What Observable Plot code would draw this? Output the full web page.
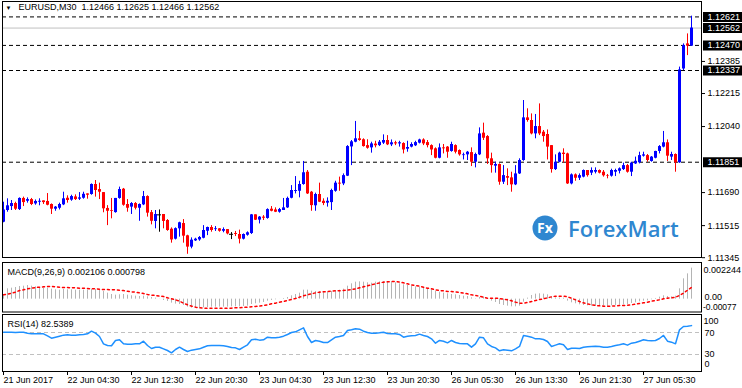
<!DOCTYPE html>
<html><head><meta charset="utf-8">
<script src="https://cdn.jsdelivr.net/npm/d3@7"></script>
<script src="https://cdn.jsdelivr.net/npm/@observablehq/plot@0.6"></script>
<style>
body{margin:0;background:#fff;}
#chart{position:relative;width:742px;height:388px;overflow:hidden;background:#fff;}
#chart svg{position:absolute;left:0;overflow:visible;}
</style></head><body><div id="chart"></div>
<script>
const titleText = "EURUSD,M30  1.12466 1.12625 1.12466 1.12562";
const macdTitle = "MACD(9,26,9) 0.002106 0.000798";
const rsiTitle = "RSI(14) 82.5389";

const open = [1.11533,1.11595,1.11616,1.11632,1.11600,1.11659,1.11644,1.11653,1.11630,1.11639,
1.11646,1.11643,1.11627,1.11602,1.11607,1.11625,1.11660,1.11650,1.11667,1.11655,
1.11660,1.11683,1.11680,1.11733,1.11706,1.11690,1.11606,1.11595,1.11584,1.11659,
1.11708,1.11627,1.11613,1.11632,1.11607,1.11625,1.11669,1.11584,1.11537,1.11572,
1.11574,1.11542,1.11496,1.11443,1.11498,1.11526,1.11461,1.11401,1.11434,1.11439,
1.11448,1.11485,1.11505,1.11494,1.11498,1.11485,1.11494,1.11469,1.11473,1.11468,
1.11443,1.11464,1.11473,1.11572,1.11544,1.11560,1.11553,1.11602,1.11598,1.11586,
1.11595,1.11609,1.11660,1.11696,1.11697,1.11733,1.11798,1.11692,1.11620,1.11680,
1.11644,1.11634,1.11637,1.11697,1.11740,1.11736,1.11777,1.11932,1.11957,1.11975,
1.11970,1.11939,1.11927,1.11947,1.11939,1.11952,1.11966,1.11943,1.11954,1.11948,
1.11950,1.11920,1.11931,1.11938,1.11952,1.11969,1.11955,1.11939,1.11922,1.11872,
1.11927,1.11931,1.11908,1.11939,1.11913,1.11886,1.11890,1.11902,1.11851,1.11890,
1.12005,1.11987,1.11869,1.11830,1.11839,1.11745,1.11775,1.11768,1.11731,1.11789,
1.11860,1.12086,1.12072,1.12001,1.12040,1.12010,1.11998,1.11939,1.11812,1.11851,
1.11899,1.11895,1.11736,1.11784,1.11766,1.11772,1.11807,1.11793,1.11798,1.11807,
1.11798,1.11780,1.11777,1.11798,1.11803,1.11812,1.11833,1.11798,1.11842,1.11848,
1.11883,1.11886,1.11855,1.11872,1.11908,1.11931,1.11954,1.11878,1.11892,1.11848,
1.12345,1.12478,1.12466];
const high = [1.11639,1.11657,1.11648,1.11639,1.11662,1.11666,1.11662,1.11659,1.11651,1.11657,
1.11646,1.11685,1.11630,1.11616,1.11634,1.11692,1.11673,1.11676,1.11678,1.11690,
1.11692,1.11683,1.11736,1.11754,1.11740,1.11690,1.11621,1.11659,1.11659,1.11719,
1.11712,1.11653,1.11637,1.11637,1.11630,1.11696,1.11673,1.11595,1.11595,1.11598,
1.11574,1.11547,1.11503,1.11503,1.11533,1.11547,1.11464,1.11450,1.11448,1.11457,
1.11515,1.11507,1.11515,1.11510,1.11499,1.11503,1.11494,1.11478,1.11484,1.11491,
1.11471,1.11482,1.11574,1.11572,1.11563,1.11568,1.11604,1.11616,1.11609,1.11606,
1.11659,1.11666,1.11727,1.11775,1.11750,1.11855,1.11807,1.11696,1.11687,1.11740,
1.11657,1.11662,1.11708,1.11750,1.11772,1.11789,1.11939,1.11966,1.12067,1.12014,
1.11975,1.11970,1.11957,1.11962,1.11966,1.11996,1.11992,1.11969,1.11962,1.11962,
1.11954,1.11962,1.11954,1.11962,1.11973,1.11975,1.11966,1.11943,1.11927,1.11948,
1.11945,1.11934,1.11957,1.11943,1.11916,1.11899,1.11908,1.11927,1.11899,1.12033,
1.12058,1.11992,1.11899,1.11851,1.11842,1.11833,1.11816,1.11798,1.11833,1.11869,
1.12178,1.12134,1.12107,1.12104,1.12160,1.12019,1.12022,1.11939,1.11890,1.11904,
1.11922,1.11899,1.11789,1.11789,1.11789,1.11810,1.11807,1.11821,1.11821,1.11810,
1.11807,1.11786,1.11814,1.11814,1.11821,1.11846,1.11839,1.11851,1.11878,1.11904,
1.11904,1.11892,1.11881,1.11909,1.11939,1.12014,1.11969,1.11904,1.11895,1.12355,
1.12478,1.12531,1.12625];
const low = [1.11530,1.11586,1.11595,1.11595,1.11595,1.11616,1.11634,1.11621,1.11623,1.11620,
1.11627,1.11620,1.11574,1.11591,1.11598,1.11621,1.11634,1.11644,1.11648,1.11648,
1.11655,1.11655,1.11676,1.11666,1.11653,1.11583,1.11515,1.11551,1.11581,1.11655,
1.11618,1.11586,1.11574,1.11598,1.11538,1.11621,1.11560,1.11519,1.11498,1.11480,
1.11498,1.11485,1.11422,1.11439,1.11454,1.11422,1.11363,1.11392,1.11431,1.11432,
1.11445,1.11462,1.11480,1.11484,1.11480,1.11477,1.11466,1.11441,1.11457,1.11418,
1.11439,1.11459,1.11468,1.11542,1.11524,1.11542,1.11549,1.11588,1.11584,1.11581,
1.11595,1.11606,1.11657,1.11683,1.11662,1.11729,1.11680,1.11591,1.11591,1.11637,
1.11621,1.11613,1.11595,1.11692,1.11697,1.11727,1.11775,1.11833,1.11954,1.11962,
1.11931,1.11920,1.11899,1.11927,1.11934,1.11945,1.11939,1.11934,1.11939,1.11931,
1.11895,1.11904,1.11927,1.11934,1.11948,1.11939,1.11927,1.11886,1.11869,1.11869,
1.11895,1.11872,1.11904,1.11895,1.11883,1.11863,1.11860,1.11828,1.11821,1.11886,
1.11966,1.11839,1.11793,1.11793,1.11729,1.11733,1.11727,1.11692,1.11727,1.11786,
1.11856,1.12063,1.11996,1.11975,1.11992,1.11957,1.11863,1.11793,1.11807,1.11848,
1.11846,1.11733,1.11731,1.11750,1.11754,1.11768,1.11772,1.11780,1.11789,1.11789,
1.11772,1.11763,1.11772,1.11775,1.11789,1.11807,1.11793,1.11775,1.11839,1.11842,
1.11878,1.11851,1.11851,1.11869,1.11895,1.11927,1.11855,1.11860,1.11798,1.11845,
1.12337,1.12416,1.12466];
const close = [1.11598,1.11620,1.11632,1.11602,1.11659,1.11637,1.11653,1.11627,1.11643,1.11644,
1.11637,1.11623,1.11602,1.11613,1.11627,1.11657,1.11648,1.11669,1.11653,1.11662,
1.11681,1.11676,1.11733,1.11701,1.11692,1.11604,1.11591,1.11591,1.11659,1.11706,
1.11623,1.11607,1.11632,1.11607,1.11627,1.11669,1.11581,1.11538,1.11574,1.11572,
1.11537,1.11489,1.11439,1.11499,1.11530,1.11459,1.11401,1.11438,1.11443,1.11452,
1.11489,1.11505,1.11489,1.11498,1.11485,1.11494,1.11471,1.11469,1.11468,1.11443,
1.11468,1.11477,1.11572,1.11544,1.11560,1.11554,1.11600,1.11591,1.11586,1.11600,
1.11609,1.11659,1.11701,1.11701,1.11733,1.11795,1.11683,1.11621,1.11680,1.11639,
1.11632,1.11644,1.11701,1.11740,1.11735,1.11780,1.11934,1.11959,1.11975,1.11966,
1.11934,1.11925,1.11948,1.11938,1.11957,1.11966,1.11943,1.11954,1.11948,1.11954,
1.11916,1.11929,1.11945,1.11955,1.11969,1.11948,1.11939,1.11916,1.11872,1.11927,
1.11922,1.11904,1.11945,1.11904,1.11890,1.11890,1.11904,1.11851,1.11892,1.12001,
1.11978,1.11869,1.11833,1.11839,1.11745,1.11780,1.11766,1.11731,1.11789,1.11860,
1.12086,1.12072,1.12001,1.12040,1.12001,1.11987,1.11931,1.11812,1.11851,1.11899,
1.11892,1.11736,1.11784,1.11766,1.11780,1.11807,1.11780,1.11807,1.11807,1.11793,
1.11779,1.11777,1.11807,1.11807,1.11816,1.11833,1.11798,1.11846,1.11856,1.11886,
1.11890,1.11860,1.11878,1.11908,1.11934,1.11954,1.11883,1.11892,1.11848,1.12340,
1.12469,1.12466,1.12562];

const macdMain = [0.000294,0.000701,0.000746,0.000791,0.000859,0.000881,0.000927,0.000881,0.000836,0.000791,
0.000746,0.000746,0.000678,0.000633,0.000610,0.000655,0.000633,0.000633,0.000610,0.000610,
0.000610,0.000610,0.000655,0.000655,0.000610,0.000520,0.000407,0.000316,0.000271,0.000294,
0.000316,0.000271,0.000226,0.000203,0.000181,0.000203,0.000158,0.000113,0.000068,-0.000010,
-0.000090,-0.000158,-0.000271,-0.000339,-0.000362,-0.000429,-0.000542,-0.000610,-0.000610,-0.000610,
-0.000588,-0.000565,-0.000542,-0.000542,-0.000542,-0.000542,-0.000542,-0.000520,-0.000520,-0.000520,
-0.000497,-0.000475,-0.000362,-0.000316,-0.000271,-0.000226,-0.000136,-0.000090,-0.000045,-0.000005,
0.000045,0.000113,0.000226,0.000316,0.000407,0.000610,0.000610,0.000542,0.000520,0.000520,
0.000497,0.000475,0.000520,0.000565,0.000610,0.000678,0.000881,0.001040,0.001153,0.001175,
0.001153,0.001107,0.001085,0.001153,0.001175,0.001198,0.001198,0.001153,0.001107,0.001040,
0.000972,0.000927,0.000881,0.000836,0.000814,0.000768,0.000701,0.000633,0.000542,0.000475,
0.000407,0.000362,0.000316,0.000294,0.000249,0.000203,0.000181,0.000090,0.000023,0.000113,
0.000136,-0.000023,-0.000136,-0.000226,-0.000362,-0.000429,-0.000475,-0.000520,-0.000520,-0.000475,
-0.000203,0.000068,0.000249,0.000339,0.000362,0.000339,0.000294,0.000158,0.000090,0.000068,
0.000068,-0.000136,-0.000249,-0.000316,-0.000384,-0.000429,-0.000452,-0.000475,-0.000475,-0.000475,
-0.000475,-0.000497,-0.000452,-0.000429,-0.000407,-0.000384,-0.000362,-0.000294,-0.000249,-0.000181,
-0.000136,-0.000113,-0.000045,0.000045,0.000136,0.000226,0.000181,0.000158,0.000203,0.000701,
0.001379,0.001718,0.002106];
const macdSignal = [0.000294,0.000339,0.000407,0.000475,0.000588,0.000633,0.000701,0.000746,0.000791,0.000814,
0.000836,0.000859,0.000859,0.000836,0.000814,0.000791,0.000791,0.000768,0.000768,0.000746,
0.000746,0.000723,0.000701,0.000701,0.000678,0.000655,0.000655,0.000633,0.000633,0.000610,
0.000588,0.000542,0.000497,0.000475,0.000429,0.000384,0.000316,0.000271,0.000249,0.000203,
0.000181,0.000090,0.000023,-0.000045,-0.000136,-0.000271,-0.000384,-0.000475,-0.000542,-0.000588,
-0.000610,-0.000610,-0.000610,-0.000610,-0.000610,-0.000610,-0.000610,-0.000610,-0.000588,-0.000588,
-0.000565,-0.000542,-0.000520,-0.000497,-0.000475,-0.000429,-0.000384,-0.000316,-0.000271,-0.000203,
-0.000158,-0.000090,-0.000023,0.000045,0.000136,0.000226,0.000294,0.000362,0.000429,0.000475,
0.000497,0.000520,0.000542,0.000565,0.000565,0.000588,0.000610,0.000655,0.000701,0.000768,
0.000836,0.000904,0.000972,0.001040,0.001107,0.001153,0.001175,0.001198,0.001198,0.001153,
0.001107,0.001040,0.000972,0.000927,0.000881,0.000814,0.000746,0.000701,0.000633,0.000588,
0.000565,0.000520,0.000520,0.000497,0.000452,0.000407,0.000362,0.000294,0.000249,0.000203,
0.000136,0.000068,0.000068,0.000068,0.000045,0.000000,-0.000045,-0.000113,-0.000203,-0.000271,
-0.000271,-0.000226,-0.000158,-0.000090,-0.000023,0.000023,0.000090,0.000158,0.000203,0.000203,
0.000203,0.000158,0.000068,-0.000045,-0.000158,-0.000249,-0.000316,-0.000384,-0.000429,-0.000452,
-0.000475,-0.000475,-0.000475,-0.000452,-0.000429,-0.000429,-0.000407,-0.000384,-0.000339,-0.000294,
-0.000249,-0.000203,-0.000136,-0.000090,-0.000045,0.000023,0.000068,0.000090,0.000136,0.000249,
0.000407,0.000610,0.000798];
const rsi = [70.6,70.6,70.6,70.0,70.6,70.6,68.8,67.6,67.6,67.6,67.6,
63.9,59.7,61.5,63.3,65.2,65.8,65.2,65.2,65.8,66.4,67.6,
72.4,68.8,62.7,49.4,46.4,45.8,55.5,56.7,49.4,48.8,48.8,
49.4,49.4,54.2,46.4,40.9,43.3,43.3,40.3,37.3,33.0,39.1,
43.3,39.1,35.5,37.9,39.1,40.3,43.3,45.8,46.4,46.4,46.4,
45.8,44.6,42.7,42.1,39.1,43.3,47.6,56.7,57.9,56.1,56.7,
61.5,60.3,60.3,61.5,63.3,66.4,70.0,71.2,74.9,78.5,62.7,
51.8,55.5,54.2,51.8,51.8,56.7,61.5,62.7,64.6,73.6,74.9,
76.7,76.1,72.4,70.0,
68.8,68.8,69.4,70.6,68.2,67.6,67.6,66.4,61.5,63.3,63.9,
64.6,67.0,64.6,62.7,58.5,50.6,55.5,54.2,51.2,55.5,51.8,
50.0,49.4,49.4,43.3,49.4,61.5,60.3,49.4,44.6,42.1,36.7,
38.5,37.9,36.7,40.3,44.6,64.6,63.3,61.5,58.5,58.5,57.3,
53.6,44.6,47.0,49.4,47.6,39.1,41.5,41.5,40.9,43.3,43.9,
44.6,45.2,44.6,43.3,43.3,44.6,46.4,47.6,49.4,47.0,50.6,
51.8,54.2,56.7,55.5,54.9,55.5,59.1,64.6,54.2,52.4,49.4,
74.9,80.9,81.5,82.5];

const timeTickIndex = [1,17,33,49,65,81,97,113,129,145,161];
const timeTickLabels = ["21 Jun 2017","22 Jun 04:30","22 Jun 12:30","22 Jun 20:30","23 Jun 04:30","23 Jun 12:30","23 Jun 20:30","26 Jun 05:30","26 Jun 13:30","26 Jun 21:30","27 Jun 05:30"];
const priceTicks = [1.12385,1.12215,1.12040,1.11690,1.11515,1.11345];
const priceLevels = [1.12621,1.12470,1.12337,1.11851];
const bidPrice = 1.12562;
const macdScaleValues = [0.002244, 0, -0.00077];
const macdScaleLabels = ["0.002244", "0.00", "-0.00077"];
const rsiLevels = [70, 30];
const rsiScaleValues = [100, 70, 30, 0];

const FONT = '"Liberation Sans", Arial, sans-serif';
const style = {fontFamily: FONT, fontSize: "9px", color: "#000", background: "transparent", overflow: "visible"};
const fmt5 = d3.format(".5f");
const xDomain = [0.75, 175.5];

const candles = open.map((o, k) => ({i: k + 1, o, h: high[k], l: low[k], c: close[k]}));
const candleColor = d => d.c > d.o ? "#0000ff" : d.c < d.o ? "#ff0000" : "#000000";
const macdRows = macdMain.map((m, k) => ({i: k + 1, m, s: macdSignal[k]}));
const rsiRows = rsi.map((r, k) => ({i: k + 1, r}));
const boxLevels = [...priceLevels, bidPrice];

const main = Plot.plot({
  width: 742, height: 258, marginLeft: 2, marginRight: 41, marginTop: 1, marginBottom: 1,
  style,
  x: {domain: xDomain, axis: null},
  y: {domain: [1.11346, 1.12708], range: [257, 0], label: null},
  color: {type: "identity"},
  marks: [
    Plot.ruleY([bidPrice], {stroke: "#c0c0c0"}),
    Plot.ruleY(priceLevels, {stroke: "#000", strokeDasharray: "4,3"}),
    Plot.ruleX(candles, {x: "i", y1: "l", y2: "h", stroke: candleColor}),
    Plot.ruleX(candles.filter(d => d.o !== d.c), {x: "i", y1: "o", y2: "c", stroke: candleColor, strokeWidth: 3}),
    Plot.ruleY(candles.filter(d => d.o === d.c), {y: "o", x1: d => d.i - 0.5, x2: d => d.i + 0.5, stroke: "#000"}),
    Plot.frame({stroke: "#000"}),
    Plot.axisY(priceTicks, {anchor: "right", tickSize: 3, tickPadding: 3, tickFormat: fmt5, label: null}),
    Plot.ruleY(boxLevels, {y: d => d, x1: 176, x2: 186, stroke: "#000", strokeWidth: 10}),
    Plot.text(boxLevels, {y: d => d, text: d => fmt5(d), frameAnchor: "right", textAnchor: "start", dx: 6, fill: "#fff"}),
    Plot.text(["\u25BC"], {text: d => d, frameAnchor: "top-left", dx: 3, dy: 7, lineAnchor: "middle", textAnchor: "start", fontSize: 6}),
    Plot.text([titleText], {text: d => d, frameAnchor: "top-left", dx: 16, dy: 6, lineAnchor: "middle", textAnchor: "start"})
  ]
});

const macd = Plot.plot({
  width: 742, height: 52, marginLeft: 2, marginRight: 41, marginTop: 1, marginBottom: 1.5,
  style,
  x: {domain: xDomain, axis: null},
  y: {domain: [-0.00077, 0.002244], range: [49, 4.6], axis: null},
  marks: [
    Plot.ruleX(macdRows, {x: "i", y1: 0, y2: "m", stroke: "#b4b4b4"}),
    Plot.line(macdRows, {x: "i", y: "s", stroke: "#ff0000", strokeDasharray: "2,3"}),
    Plot.frame({stroke: "#000"}),
    Plot.text([macdTitle], {text: d => d, frameAnchor: "top-left", dx: 5, dy: 9.7, lineAnchor: "middle", textAnchor: "start"}),
    Plot.text([0], {y: () => macdScaleValues[0], text: () => macdScaleLabels[0], frameAnchor: "right", textAnchor: "start", dx: 2, dy: 4.4}),
    Plot.text([1], {y: () => macdScaleValues[1], text: () => macdScaleLabels[1], frameAnchor: "right", textAnchor: "start", dx: 3, dy: -2.5}),
    Plot.text([2], {y: () => macdScaleValues[2], text: () => macdScaleLabels[2], frameAnchor: "right", textAnchor: "start", dx: 1.5, dy: -3.5, fontSize: 8.5})
  ]
});

const rsiPlot = Plot.plot({
  width: 742, height: 75, marginLeft: 2, marginRight: 41, marginTop: 1, marginBottom: 17,
  style,
  x: {domain: xDomain, label: null},
  y: {domain: [0, 100], range: [57.5, 2.5], axis: null},
  marks: [
    Plot.ruleY(rsiLevels, {stroke: "#c0c0c0", strokeDasharray: "4,3"}),
    Plot.line(rsiRows, {x: "i", y: "r", stroke: "#1e90ff"}),
    Plot.frame({stroke: "#000"}),
    Plot.axisX(timeTickIndex, {anchor: "bottom", tickSize: 4, tickPadding: 1, textAnchor: "start", label: null,
      tickFormat: d => timeTickLabels[timeTickIndex.indexOf(d)]}),
    Plot.text([rsiTitle], {text: d => d, frameAnchor: "top-left", dx: 5, dy: 9.3, lineAnchor: "middle", textAnchor: "start"}),
    Plot.text([rsiScaleValues[0]], {y: d => d, text: d => String(d), frameAnchor: "right", textAnchor: "start", dx: 2, dy: 5.5}),
    Plot.text([rsiScaleValues[1]], {y: d => d, text: d => String(d), frameAnchor: "right", textAnchor: "start", dx: 3, dy: 1}),
    Plot.text([rsiScaleValues[2]], {y: d => d, text: d => String(d), frameAnchor: "right", textAnchor: "start", dx: 3, dy: 0}),
    Plot.text([rsiScaleValues[3]], {y: d => d, text: d => String(d), frameAnchor: "right", textAnchor: "start", dx: 3, dy: -6.5})
  ]
});

const chart = document.getElementById("chart");
main.style.top = "0px";
macd.style.top = "261px";
rsiPlot.style.top = "313px";
chart.append(main, macd, rsiPlot);

// ForexMart watermark logo
const logo = d3.select(chart).append("svg")
  .attr("width", 742).attr("height", 388)
  .style("top", "0px").style("pointer-events", "none");
logo.append("circle").attr("cx", 545).attr("cy", 228).attr("r", 12.5).attr("fill", "#2f87d0");
logo.append("text").attr("x", 545).attr("y", 233).attr("text-anchor", "middle")
  .attr("font-family", "Open Sans, sans-serif").attr("font-weight", 700).attr("font-size", 14)
  .attr("fill", "#fff").text("Fx");
logo.append("text").attr("x", 568).attr("y", 236.5)
  .attr("font-family", "Open Sans, sans-serif").attr("font-weight", 600).attr("font-size", 22)
  .attr("fill", "#2f87d0").text("ForexMart");
</script></body></html>
